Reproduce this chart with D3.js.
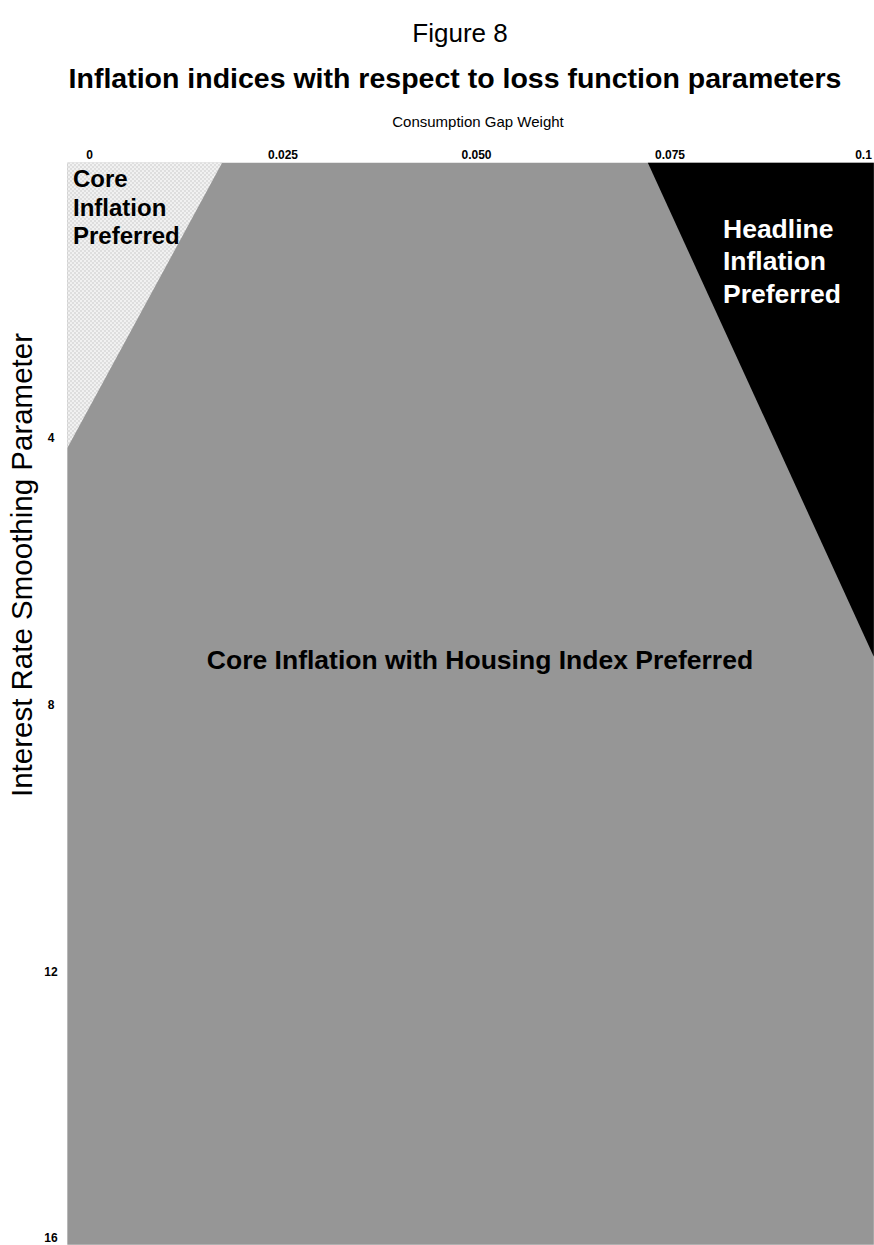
<!DOCTYPE html>
<html>
<head>
<meta charset="utf-8">
<script src="https://cdn.jsdelivr.net/npm/d3@7"></script>
<style>
  html, body { margin: 0; padding: 0; background: #ffffff; }
  svg { display: block; }
  text { font-family: "Liberation Sans", Arial, Helvetica, sans-serif; }
</style>
</head>
<body>
<svg id="chart" width="874" height="1245"></svg>
<script>
// ---- Data ----
const weightTicks = [0, 0.025, 0.05, 0.075, 0.1];
const weightTickLabels = ["0", "0.025", "0.050", "0.075", "0.1"];
const smoothingTicks = [4, 8, 12, 16];
const smoothingTickLabels = ["4", "8", "12", "16"];

// extent of the plotted surface
const weightExtent = [-0.0028, 0.1014];
const smoothingExtent = [-0.13, 16.1];

// region boundaries (consumption gap weight, smoothing parameter)
const coreBoundaryWeight = [0.0172, -0.0028];
const coreBoundarySmoothing = [-0.13, 4.15];
const headlineBoundaryWeight = [0.0722, 0.1014];
const headlineBoundarySmoothing = [-0.13, 7.28];

const regionNames = ["Core Inflation with Housing Index Preferred", "Core Inflation Preferred", "Headline Inflation Preferred"];

// ---- Scales ----
const x = d3.scaleLinear().domain([0, 0.1]).range([89, 863]);
const y = d3.scaleLinear().domain([0, 16]).range([171.5, 1238]);

const svg = d3.select("#chart");

// pattern for the light region
const defs = svg.append("defs");
const pat = defs.append("pattern")
  .attr("id", "dots").attr("patternUnits", "userSpaceOnUse")
  .attr("width", 4).attr("height", 4);
pat.append("rect").attr("width", 4).attr("height", 4).attr("fill", "#dedede");
pat.append("circle").attr("cx", 1).attr("cy", 1).attr("r", 1.1).attr("fill", "#f4f4f4");
pat.append("circle").attr("cx", 3).attr("cy", 3).attr("r", 1.1).attr("fill", "#f4f4f4");

const line = d3.line().x(d => x(d[0])).y(d => y(d[1]));

// background region (core with housing)
const housingPoly = [
  [weightExtent[0], smoothingExtent[0]], [weightExtent[1], smoothingExtent[0]],
  [weightExtent[1], smoothingExtent[1]], [weightExtent[0], smoothingExtent[1]]
];
svg.append("path").attr("d", line(housingPoly) + "Z").attr("fill", "#969696");

// core inflation region
const corePoly = [
  [weightExtent[0], smoothingExtent[0]],
  [coreBoundaryWeight[0], coreBoundarySmoothing[0]],
  [coreBoundaryWeight[1], coreBoundarySmoothing[1]]
];
svg.append("path").attr("d", line(corePoly) + "Z").attr("fill", "url(#dots)");

// headline region
const headPoly = [
  [headlineBoundaryWeight[0], headlineBoundarySmoothing[0]],
  [weightExtent[1], smoothingExtent[0]],
  [headlineBoundaryWeight[1], headlineBoundarySmoothing[1]]
];
svg.append("path").attr("d", line(headPoly) + "Z").attr("fill", "#000000");

// ---- Axes ----
const xAxis = d3.axisTop(x).tickValues(weightTicks)
  .tickFormat((d, i) => weightTickLabels[i]).tickSize(0).tickPadding(0);
const gx = svg.append("g").attr("transform", `translate(0,${y(smoothingExtent[0]) - 4})`).call(xAxis);
gx.select(".domain").remove();
gx.selectAll("text").attr("font-size", 12).attr("font-weight", "bold").attr("fill", "#000")
  .style("font-family", "'Liberation Sans', Arial, sans-serif");

const yAxis = d3.axisLeft(y).tickValues(smoothingTicks)
  .tickFormat((d, i) => smoothingTickLabels[i]).tickSize(0).tickPadding(0);
const gy = svg.append("g").attr("transform", "translate(51,0)").call(yAxis);
gy.select(".domain").remove();
gy.selectAll("text").attr("font-size", 12).attr("font-weight", "bold").attr("fill", "#000")
  .attr("text-anchor", "middle")
  .style("font-family", "'Liberation Sans', Arial, sans-serif");

// ---- Titles ----
svg.append("text").attr("x", 460).attr("y", 42).attr("text-anchor", "middle")
  .attr("font-size", 26).text("Figure 8");
svg.append("text").attr("x", 455).attr("y", 88).attr("text-anchor", "middle")
  .attr("font-size", 28.5).attr("font-weight", "bold")
  .text("Inflation indices with respect to loss function parameters");
svg.append("text").attr("x", 478).attr("y", 127).attr("text-anchor", "middle")
  .attr("font-size", 15).text("Consumption Gap Weight");
svg.append("text").attr("transform", "translate(32,565) rotate(-90)").attr("text-anchor", "middle")
  .attr("font-size", 29.5).text("Interest Rate Smoothing Parameter");

// ---- Region labels ----
const coreLbl = svg.append("text").attr("font-size", 24).attr("font-weight", "bold").attr("fill", "#000");
["Core", "Inflation", "Preferred"].forEach((t, i) =>
  coreLbl.append("tspan").attr("x", 73).attr("y", 187 + i * 28.5).text(t));

const headLbl = svg.append("text").attr("font-size", 26.5).attr("font-weight", "bold").attr("fill", "#fff");
["Headline", "Inflation", "Preferred"].forEach((t, i) =>
  headLbl.append("tspan").attr("x", 723).attr("y", 237.5 + i * 32.5).text(t));

svg.append("text").attr("x", 480).attr("y", 669).attr("text-anchor", "middle")
  .attr("font-size", 26.5).attr("font-weight", "bold").attr("fill", "#000")
  .text(regionNames[0]);
</script>
</body>
</html>
